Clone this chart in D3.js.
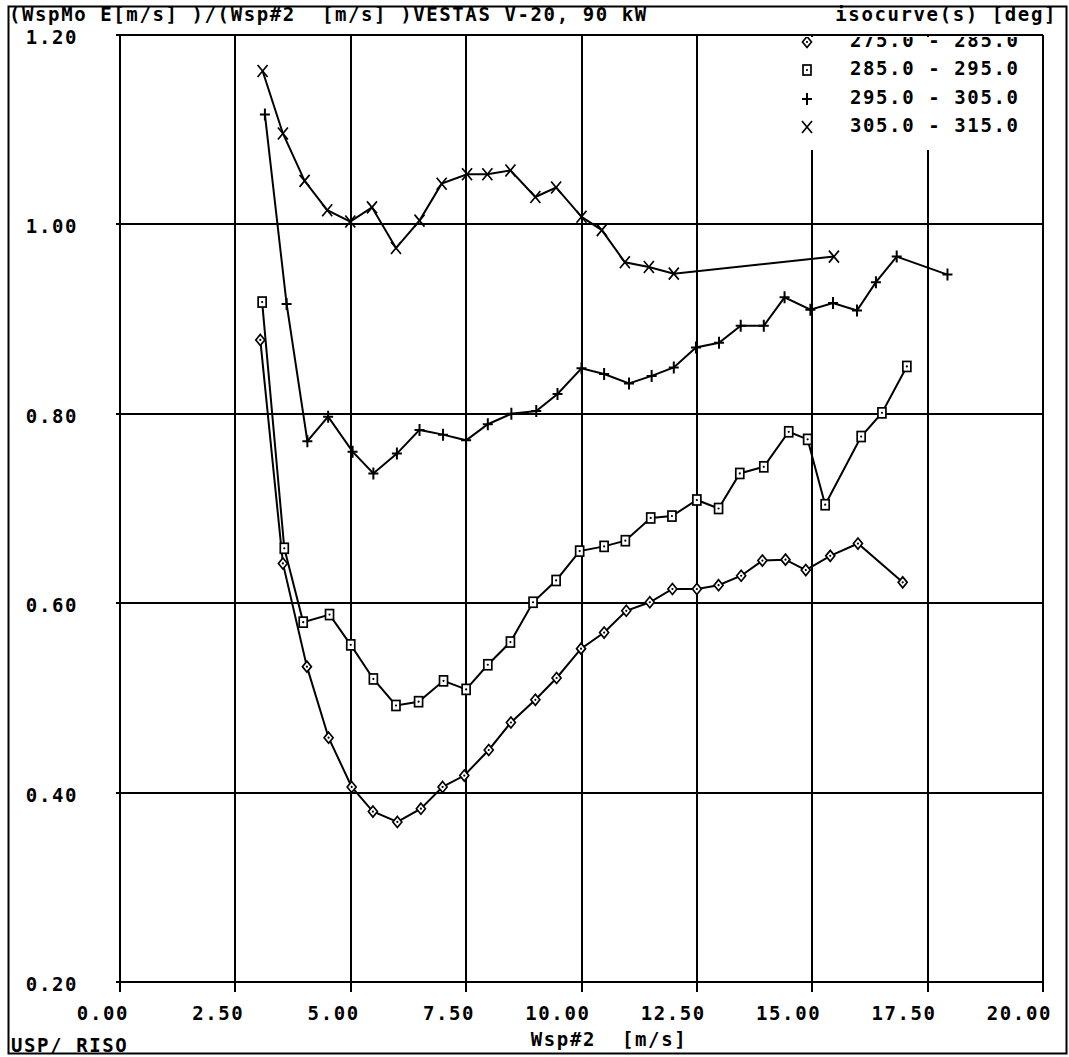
<!DOCTYPE html>
<html>
<head>
<meta charset="utf-8">
<script src="https://cdn.jsdelivr.net/npm/d3@7"></script>
<style>
  html, body { margin: 0; padding: 0; background: #fff; }
  svg { display: block; }
  text { font-family: "DejaVu Sans Mono", monospace; font-weight: bold; font-size: 19px; letter-spacing: 1.6px; fill: #000; white-space: pre; }
</style>
</head>
<body>
<svg id="chart" width="1069" height="1057"></svg>
<script>
// Wind speed ratio isocurves, one series per direction sector
const sectorLabels = ["275.0 - 285.0", "285.0 - 295.0", "295.0 - 305.0", "305.0 - 315.0"];
const sectorSymbols = ["diamond", "square", "plus", "cross"];

const wsp275 = [3.04, 3.53, 4.05, 4.52, 5.02, 5.48, 6.01, 6.52, 6.99, 7.46, 7.99, 8.47, 9.00, 9.46, 9.99, 10.49, 10.97, 11.48, 11.97, 12.50, 12.97, 13.46, 13.92, 14.42, 14.86, 15.39, 15.99, 16.96];
const ratio275 = [0.878, 0.642, 0.533, 0.458, 0.406, 0.380, 0.369, 0.383, 0.406, 0.418, 0.445, 0.474, 0.498, 0.521, 0.552, 0.569, 0.592, 0.601, 0.615, 0.615, 0.619, 0.629, 0.645, 0.646, 0.635, 0.650, 0.663, 0.622];

const wsp285 = [3.08, 3.56, 3.97, 4.54, 5.00, 5.49, 5.98, 6.47, 7.01, 7.50, 7.97, 8.46, 8.95, 9.45, 9.96, 10.49, 10.95, 11.50, 11.96, 12.50, 12.97, 13.43, 13.95, 14.49, 14.90, 15.28, 16.06, 16.51, 17.05];
const ratio285 = [0.918, 0.658, 0.580, 0.588, 0.556, 0.520, 0.492, 0.496, 0.518, 0.509, 0.535, 0.559, 0.601, 0.624, 0.655, 0.660, 0.666, 0.690, 0.692, 0.709, 0.700, 0.737, 0.744, 0.781, 0.773, 0.704, 0.776, 0.801, 0.850];

const wsp295 = [3.14, 3.61, 4.06, 4.51, 5.04, 5.49, 6.00, 6.49, 7.00, 7.50, 7.97, 8.48, 9.02, 9.48, 10.00, 10.49, 11.03, 11.52, 12.00, 12.48, 12.98, 13.45, 13.95, 14.40, 14.96, 15.45, 15.97, 16.38, 16.83, 17.93];
const ratio295 = [1.116, 0.916, 0.771, 0.797, 0.760, 0.737, 0.758, 0.783, 0.778, 0.772, 0.789, 0.800, 0.803, 0.821, 0.848, 0.842, 0.832, 0.840, 0.849, 0.870, 0.875, 0.893, 0.893, 0.923, 0.910, 0.917, 0.909, 0.939, 0.966, 0.947];

const wsp305 = [3.09, 3.53, 4.00, 4.49, 4.99, 5.46, 5.98, 6.49, 6.97, 7.52, 7.96, 8.46, 9.00, 9.45, 10.00, 10.44, 10.94, 11.46, 12.00, 15.47];
const ratio305 = [1.162, 1.096, 1.046, 1.015, 1.003, 1.018, 0.975, 1.004, 1.043, 1.053, 1.053, 1.057, 1.029, 1.039, 1.008, 0.994, 0.960, 0.955, 0.948, 0.966];

const xTicks = [0, 2.5, 5, 7.5, 10, 12.5, 15, 17.5, 20];
const yTicks = [0.2, 0.4, 0.6, 0.8, 1.0, 1.2];

const titleText = "(WspMo E[m/s] )/(Wsp#2  [m/s] )VESTAS V-20, 90 kW";
const legendTitle = "isocurve(s) [deg]";
const xAxisTitle = "Wsp#2  [m/s]";
const footerText = "USP/ RISO";

const series = [
  { xs: wsp275, ys: ratio275 },
  { xs: wsp285, ys: ratio285 },
  { xs: wsp295, ys: ratio295 },
  { xs: wsp305, ys: ratio305 }
].map((s, i) => ({
  label: sectorLabels[i],
  symbol: sectorSymbols[i],
  points: s.xs.map((x, j) => ({ x, y: s.ys[j] }))
}));

const svg = d3.select("#chart");
const plotLeft = 120, plotRight = 1043, plotTop = 35, plotBottom = 982;

const x = d3.scaleLinear().domain([0, 20]).range([plotLeft, plotRight]);
const y = d3.scaleLinear().domain([0.2, 1.2]).range([plotBottom, plotTop]);

// outer frame
svg.append("rect")
  .attr("x", 8.5).attr("y", 6.5).attr("width", 1058).attr("height", 1047)
  .attr("fill", "none").attr("stroke", "#000").attr("stroke-width", 2);

// grid
const grid = svg.append("g").attr("stroke", "#000").attr("stroke-width", 2).attr("shape-rendering", "crispEdges");
grid.selectAll("line.v").data(xTicks).join("line").attr("class", "v")
  .attr("x1", d => x(d)).attr("x2", d => x(d))
  .attr("y1", plotTop).attr("y2", plotBottom + 10);
grid.selectAll("line.h").data(yTicks).join("line").attr("class", "h")
  .attr("x1", plotLeft - 4).attr("x2", plotRight)
  .attr("y1", d => y(d)).attr("y2", d => y(d));

// x tick labels
svg.append("g").selectAll("text").data(xTicks).join("text")
  .attr("x", d => x(d) + 9).attr("y", 1020)
  .attr("text-anchor", "end")
  .text(d => d3.format(".2f")(d));

// y tick labels (the top one sits just under the title line)
svg.append("g").selectAll("text").data(yTicks).join("text")
  .attr("x", 78).attr("y", d => d === 1.2 ? y(d) + 9 : y(d) + 9)
  .attr("text-anchor", "end")
  .text(d => d3.format(".2f")(d));

svg.append("text").attr("x", 9).attr("y", 21).text(titleText);
svg.append("text").attr("x", 1057).attr("y", 21).attr("text-anchor", "end").text(legendTitle);
svg.append("text").attr("x", 609).attr("y", 1046).attr("text-anchor", "middle").text(xAxisTitle);
svg.append("text").attr("x", 11).attr("y", 1052).text(footerText);

// marker glyphs
function drawMarker(g, kind) {
  if (kind === "diamond") {
    g.append("path").attr("d", "M0,-5.5L4.5,0L0,5.5L-4.5,0Z").attr("fill", "#fff").attr("stroke", "#000").attr("stroke-width", 1.7);
    g.append("circle").attr("r", 1.1).attr("fill", "#000");
  } else if (kind === "square") {
    g.append("rect").attr("x", -4).attr("y", -5).attr("width", 8).attr("height", 10).attr("fill", "#fff").attr("stroke", "#000").attr("stroke-width", 1.7);
    g.append("circle").attr("r", 1.1).attr("fill", "#000");
  } else if (kind === "plus") {
    g.append("path").attr("d", "M-5,0H5M0,-6V6").attr("stroke", "#000").attr("stroke-width", 2);
  } else {
    g.append("path").attr("d", "M-5,-6L5,6M5,-6L-5,6").attr("stroke", "#000").attr("stroke-width", 1.7);
  }
}

// legend panel over the upper-right grid
const legendClip = svg.append("defs").append("clipPath").attr("id", "legend-clip");
legendClip.append("rect").attr("x", 740).attr("y", plotTop + 2).attr("width", plotRight - 741).attr("height", 120);
const legend = svg.append("g").attr("clip-path", "url(#legend-clip)");
legend.append("rect").attr("x", 740).attr("y", plotTop + 1).attr("width", plotRight - 741).attr("height", 114).attr("fill", "#fff");
const rowY = [47, 75, 104, 132];
series.forEach((s, i) => {
  const g = legend.append("g").attr("transform", `translate(807,${rowY[i] - 5})`);
  drawMarker(g, s.symbol);
  legend.append("text").attr("x", 850).attr("y", rowY[i]).text(s.label);
});

// curves
const line = d3.line().x(d => x(d.x)).y(d => y(d.y));
series.forEach(s => {
  svg.append("path").datum(s.points)
    .attr("d", line).attr("fill", "none").attr("stroke", "#000").attr("stroke-width", 2);
  svg.append("g").selectAll("g").data(s.points).join("g")
    .attr("transform", d => `translate(${x(d.x)},${y(d.y)})`)
    .each(function () { drawMarker(d3.select(this), s.symbol); });
});
</script>
</body>
</html>
